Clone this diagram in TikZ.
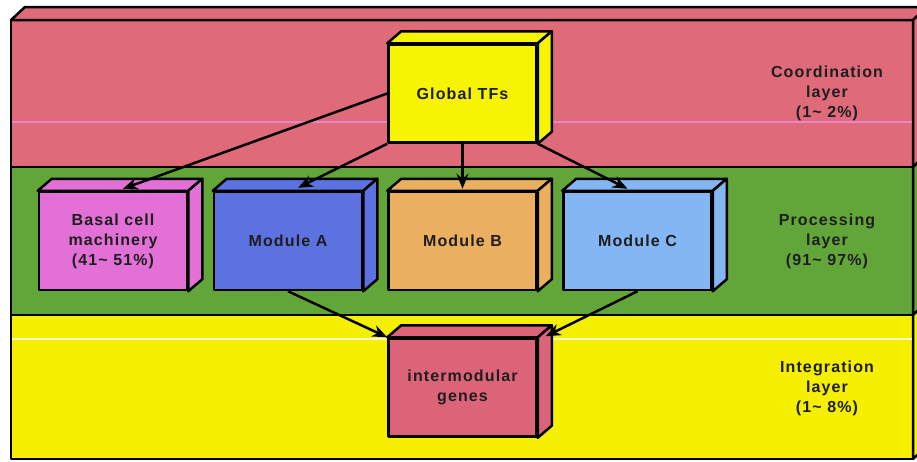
\documentclass[tikz,border=0pt]{standalone}
\usepackage{fontspec}
\setmainfont[LetterSpace=7]{Liberation Sans}
\usetikzlibrary{arrows.meta,calc}
\definecolor{coordc}{RGB}{222,106,122}
\definecolor{procc}{RGB}{98,166,58}
\definecolor{integc}{RGB}{244,240,0}
\definecolor{gtfc}{RGB}{246,244,0}
\definecolor{basalc}{RGB}{226,112,214}
\definecolor{modac}{RGB}{92,114,224}
\definecolor{modbc}{RGB}{234,176,96}
\definecolor{modcc}{RGB}{132,182,244}
\definecolor{interc}{RGB}{220,100,120}
\definecolor{txtc}{RGB}{30,30,30}
\definecolor{scanpink}{RGB}{236,130,200}
\definecolor{scanwhite}{RGB}{252,250,200}
\newcommand\cubefaces[2]{%
  \draw[edge, fill=#2] (#1.north west) -- ++(14,-12) -- ($(#1.north east)+(14,-12)$) -- (#1.north east) -- cycle;
  \draw[edge, fill=#2] (#1.north east) -- ++(14,-12) -- ($(#1.south east)+(14,-12)$) -- (#1.south east) -- cycle;}
\begin{document}
\begin{tikzpicture}[x=1pt,y=-1pt,
  edge/.style={draw=black, line width=2.5pt, line join=round},
  cube/.style={edge, minimum width=148pt, minimum height=98pt, inner sep=0pt, align=center, text=txtc,
    font=\bfseries\fontsize{16}{20}\selectfont},
  lbl/.style={align=center, text=txtc, font=\bfseries\fontsize{16}{20}\selectfont},
  arr/.style={draw=black, line width=2.5pt, -{Stealth[length=15pt,width=12pt]}}]
\useasboundingbox (0,0) rectangle (917,461);
\fill[white] (0,0) rectangle (917,461);
% outer layered box
\fill[coordc] (11,20) rectangle (913,167);
\fill[procc] (11,167) rectangle (913,315);
\fill[integc] (11,315) rectangle (913,459);
\draw[edge, fill=coordc] (11,20) -- (25,7) -- (927,7) -- (913,20) -- cycle;
\draw[edge, fill=coordc] (913,20) -- (927,7) -- (927,154) -- (913,167) -- cycle;
\draw[edge, fill=procc] (913,167) -- (927,154) -- (927,302) -- (913,315) -- cycle;
\draw[edge, fill=integc] (913,315) -- (927,302) -- (927,446) -- (913,459) -- cycle;
\draw[scanpink, line width=1.5pt] (11,122) -- (913,122);
\draw[scanwhite, line width=1.5pt] (11,339) -- (913,339);
\draw[edge] (11,20) rectangle (913,459);
\draw[edge] (11,167) -- (913,167);
\draw[edge] (11,315) -- (913,315);
% layer labels
\node[lbl] (lcoord) at (827,93) {Coordination\\layer\\(1\textasciitilde{} 2\%)};
\node[lbl] (lproc) at (827,241) {Processing\\layer\\(91\textasciitilde{} 97\%)};
\node[lbl] (linteg) at (827,388) {Integration\\layer\\(1\textasciitilde{} 8\%)};
% cubes
\node[cube, fill=gtfc] (gtf) at (462.5,93.5) {Global TFs};
\cubefaces{gtf}{gtfc}
\node[cube, fill=basalc] (basal) at (113,241) {Basal cell\\machinery\\(41\textasciitilde{} 51\%)};
\cubefaces{basal}{basalc}
\node[cube, fill=modac] (moda) at (288,241) {Module A};
\cubefaces{moda}{modac}
\node[cube, fill=modbc] (modb) at (462.5,241) {Module B};
\cubefaces{modb}{modbc}
\node[cube, fill=modcc] (modc) at (637.5,241) {Module C};
\cubefaces{modc}{modcc}
\node[cube, fill=interc] (inter) at (462.5,387.5) {intermodular\\genes};
\cubefaces{inter}{interc}
% connectors
\draw[arr] (gtf.west) -- ($(basal.north)+(10,-2)$);
\draw[arr] (gtf.south west) -- ($(moda.north)+(10,-3)$);
\draw[arr] (gtf.south) -- ($(modb.north)+(0,-2)$);
\draw[arr] (gtf.south east) -- ($(modc.north)+(-10,-2)$);
\draw[arr] (moda.south) -- (inter.north west);
\draw[arr] (modc.south) -- ($(inter.north east)+(8,-1)$);
\end{tikzpicture}
\end{document}
